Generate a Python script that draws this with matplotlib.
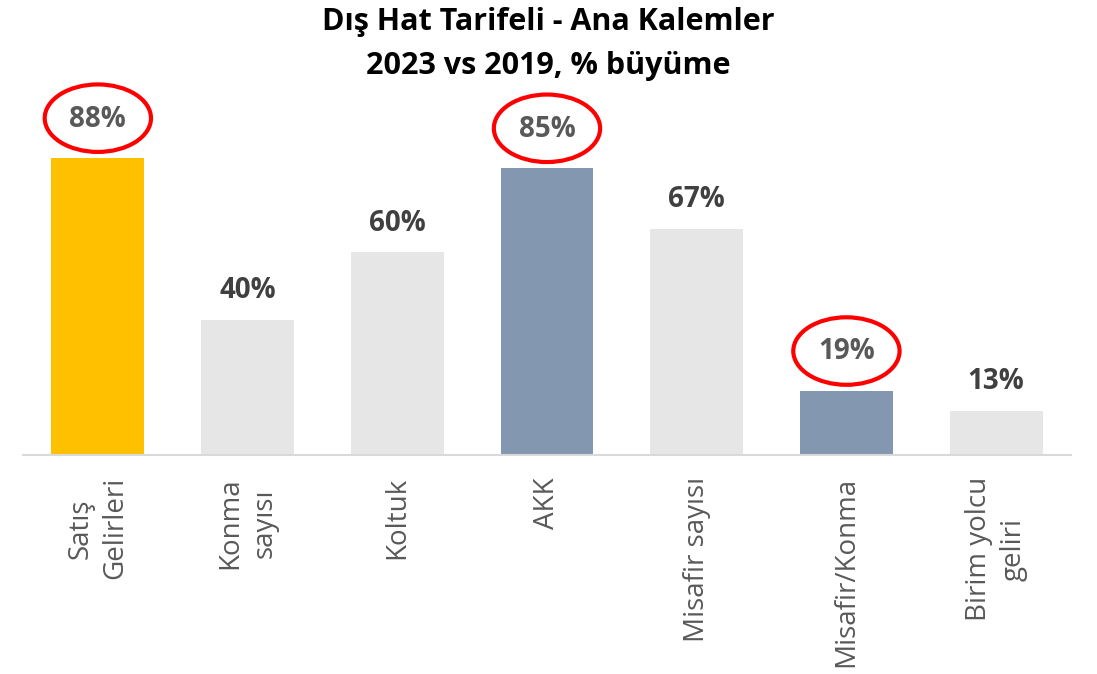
import matplotlib
matplotlib.use("Agg")
import matplotlib.pyplot as plt
from matplotlib.patches import Ellipse

plt.rcParams["font.family"] = ["Open Sans", "DejaVu Sans"]

# chart data
categories = ["Satış\nGelirleri", "Konma\nsayısı", "Koltuk", "AKK",
              "Misafir sayısı", "Misafir/Konma", "Birim yolcu\ngeliri"]
growth = [88, 40, 60, 85, 67, 19, 13]
bar_colors = ["#FFC000", "#E7E6E6", "#E7E6E6", "#8497B0",
              "#E7E6E6", "#8497B0", "#E7E6E6"]
circled = [True, False, False, True, False, True, False]

fig = plt.figure(figsize=(10.97, 6.74), dpi=100)
ax = fig.add_axes([23 / 1097, 219 / 674, (1071 - 23) / 1097, 337.5 / 674])

x = range(len(categories))
ax.bar(x, growth, width=0.62, color=bar_colors, zorder=2)
ax.set_xlim(-0.5, len(categories) - 0.5)
ax.set_ylim(0, 100)

for i, (v, c) in enumerate(zip(growth, circled)):
    if c:
        ax.annotate(f"{v}%", (i, v), xytext=(0, 28), textcoords="offset points",
                    ha="center", va="center", fontsize=20, fontweight="bold",
                    color="#595959", annotation_clip=False)
        ax.add_patch(Ellipse((i, v + 11.8), 0.71, 20, fill=False,
                             edgecolor="#FF0000", linewidth=3, clip_on=False))
    else:
        ax.annotate(f"{v}%", (i, v), xytext=(0, 21), textcoords="offset points",
                    ha="center", va="center", fontsize=20, fontweight="bold",
                    color="#404040", annotation_clip=False)

ax.set_xticks(list(x))
ax.set_xticklabels(categories, rotation=90, fontsize=20, color="#595959",
                   ha="center", va="top", multialignment="center", linespacing=1.3)
ax.tick_params(axis="x", length=0, pad=16)
ax.set_yticks([])
for side in ["top", "right", "left"]:
    ax.spines[side].set_visible(False)
ax.spines["bottom"].set_color("#D9D9D9")
ax.spines["bottom"].set_linewidth(1.5)

fig.text(548 / 1097, 1 - 44 / 674, "Dış Hat Tarifeli - Ana Kalemler\n2023 vs 2019, % büyüme",
         ha="center", va="center", fontsize=22, fontweight="bold",
         color="#000000", linespacing=1.65)

fig.savefig("out.png", dpi=100)
